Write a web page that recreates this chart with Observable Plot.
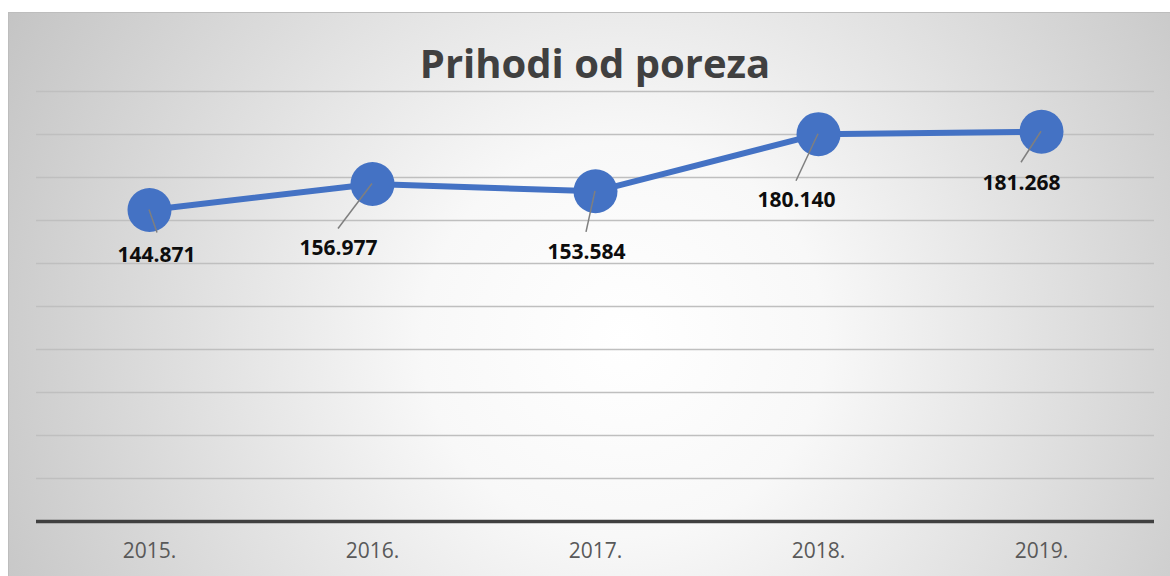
<!DOCTYPE html>
<html>
<head>
<meta charset="utf-8">
<script src="https://cdn.jsdelivr.net/npm/d3@7"></script>
<script src="https://cdn.jsdelivr.net/npm/@observablehq/plot@0.6"></script>
<style>
  html, body { margin: 0; padding: 0; background: #ffffff; }
  #chart {
    position: absolute; left: 8px; top: 12px; width: 1162px; height: 564px;
    background: radial-gradient(ellipse 62% 125% at 53% 58%, #ffffff 0%, #f8f8f8 28%, #dcdcdc 65%, #c2c2c2 100%);
    box-shadow: inset 1px 1px 0 #bdbdbd;
    overflow: hidden;
  }
  #title {
    position: absolute; left: 28px; width: 1118px; top: 31px;
    text-align: center; font-family: "Open Sans", sans-serif; font-weight: 700;
    font-size: 40px; line-height: 40px; color: #404040;
  }
  #plot { position: absolute; left: 0; top: 68px; }
</style>
</head>
<body>
<div id="chart">
  <div id="title">Prihodi od poreza</div>
  <div id="plot"></div>
</div>
<script>
// ---- data ----
const years = ["2015.", "2016.", "2017.", "2018.", "2019."];
const values = [144.871, 156.977, 153.584, 180.140, 181.268];
const gridValues = [20, 40, 60, 80, 100, 120, 140, 160, 180, 200];

// ---- label layout (pixel offsets from each point) ----
const labelOffsets = [[7, 45], [-34, 64], [-9, 61], [-22, 66], [-20, 51]];
const leaderEnds = [[8, 23], [-34, 45], [-9, 41], [-22, 47], [-20, 31]];

const data = years.map((year, i) => ({year, value: values[i], label: values[i].toFixed(3), i}));

const blue = "#4472C4";

const leaderMark = (index, scales) => {
  const g = d3.create("svg:g");
  data.forEach((d, i) => {
    const x = scales.x(d.year), y = scales.y(d.value);
    g.append("line")
      .attr("x1", x).attr("y1", y)
      .attr("x2", x + leaderEnds[i][0]).attr("y2", y + leaderEnds[i][1])
      .attr("stroke", "#7f7f7f").attr("stroke-width", 1.5);
  });
  return g.node();
};

const labelMarks = data.map((d, i) => Plot.text([d], {
  x: "year", y: "value", text: "label",
  dx: labelOffsets[i][0], dy: labelOffsets[i][1],
  fontSize: 21, fontWeight: 700, fill: "#0d0d0d"
}));

const chart = Plot.plot({
  width: 1162,
  height: 496,
  marginLeft: 28,
  marginRight: 16,
  marginTop: 11,
  marginBottom: 55,
  style: { background: "transparent", fontFamily: "'Open Sans', sans-serif", overflow: "visible" },
  x: { type: "point", domain: years, padding: 0.5, label: null },
  y: { domain: [0, 200], axis: null },
  marks: [
    Plot.ruleY(gridValues, { stroke: "#bfbfbf", strokeWidth: 1.4 }),
    Plot.ruleY([0], { stroke: "#404040", strokeWidth: 3.5 }),
    Plot.axisX({ tickSize: 0, tickPadding: 22, fontSize: 21, color: "#595959" }),
    Plot.line(data, { x: "year", y: "value", stroke: blue, strokeWidth: 6 }),
    Plot.dot(data, { x: "year", y: "value", r: 22, fill: blue, stroke: "none" }),
    leaderMark,
    ...labelMarks
  ]
});
document.getElementById("plot").appendChild(chart);
</script>
</body>
</html>
